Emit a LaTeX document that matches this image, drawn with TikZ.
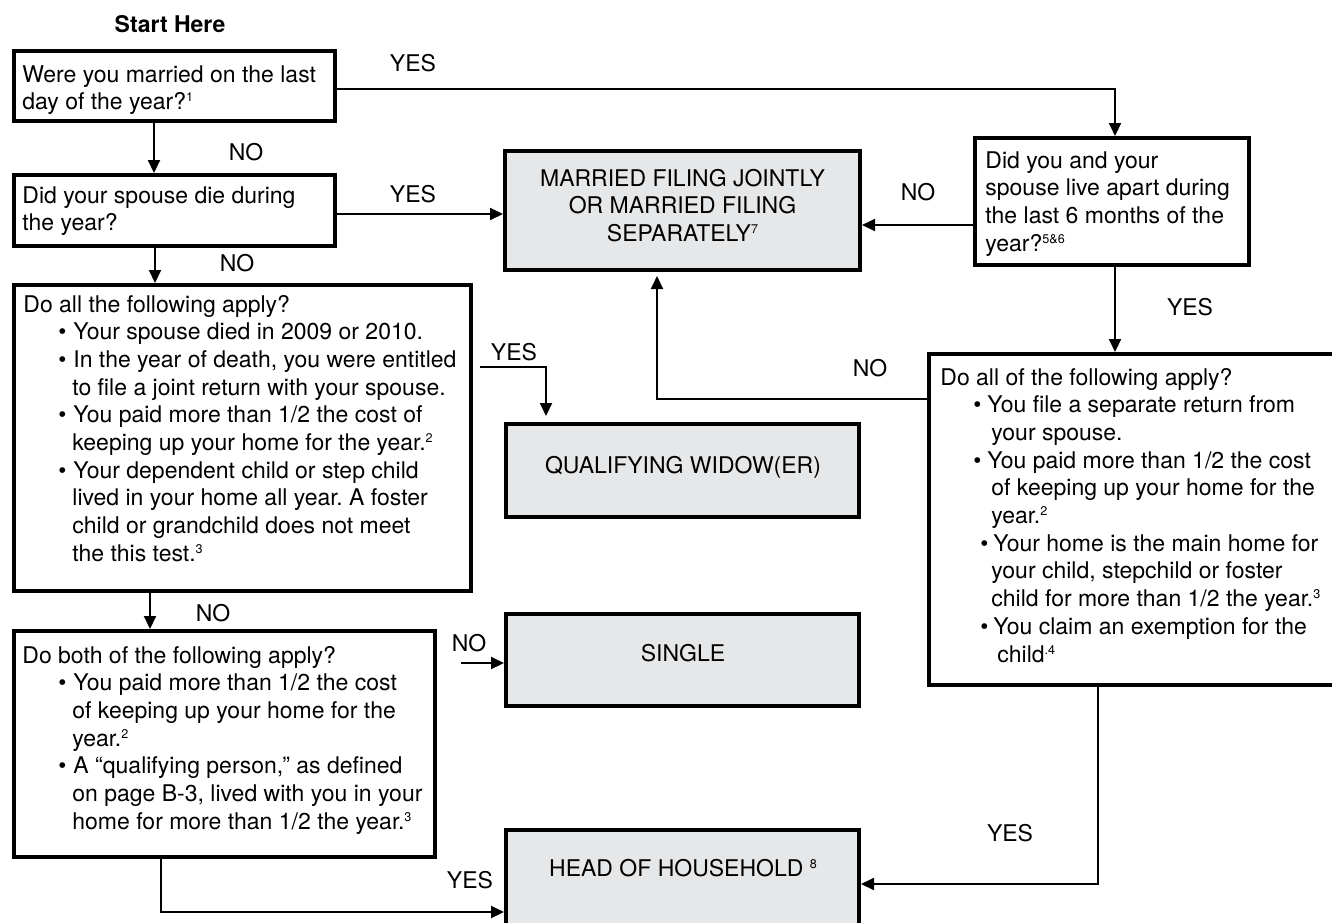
\documentclass[tikz,border=0pt]{standalone}
\usepackage{fontspec}
\setmainfont{TeX Gyre Heros}
\usetikzlibrary{arrows.meta,calc}
\definecolor{boxgray}{HTML}{E6E7E8}
\newcommand\fsz{\fontsize{11.5pt}{13.85pt}\selectfont\frenchspacing}
\newcommand\bul[2]{\hspace*{#1}\makebox[#2][l]{•}}
\newcommand\ind[1]{\hspace*{#1}}
\newcommand\sups[1]{\raisebox{3.9pt}{\fontsize{6.3pt}{7pt}\selectfont #1}}
\begin{document}
\begin{tikzpicture}[x=0.5pt,y=-0.5pt,
  box/.style={draw=black, line width=2pt, inner sep=0pt},
  rbox/.style={box, fill=boxgray},
  arr/.style={line width=1pt, -{Triangle[length=6.5pt,width=6pt]}},
  txt/.style={inner sep=0pt, anchor=base west, font=\fsz},
  ctxt/.style={inner sep=0pt, anchor=base, font=\fsz},
  lbl/.style={inner sep=0pt, font=\fsz},
]
\useasboundingbox (0,0) rectangle (1332,922);
\clip (0,0) rectangle (1332,922);

% boxes
\node[box,  minimum width=160.5pt, minimum height=35pt]   (b1) at (174.5,86) {};
\node[box,  minimum width=160.5pt, minimum height=35.5pt] (b2) at (174.5,210.5) {};
\node[rbox, minimum width=177.5pt, minimum height=59.5pt] (mfj) at (682.5,210.5) {};
\node[box,  minimum width=137pt,   minimum height=63.5pt] (b3) at (1112,201.5) {};
\node[box,  minimum width=228.5pt, minimum height=153pt]  (b4) at (242.5,438) {};
\node[rbox, minimum width=176.5pt, minimum height=46.5pt] (qw) at (682.5,470.5) {};
\node[box,  minimum width=208pt,   minimum height=165.5pt] (b5) at (1137,519.5) {};
\node[rbox, minimum width=176.5pt, minimum height=46pt]   (single) at (682.5,660) {};
\node[box,  minimum width=210.5pt, minimum height=113pt]  (b6) at (224.5,744) {};
\node[rbox, minimum width=176.5pt, minimum height=50pt]   (hoh) at (682.5,880) {};

% texts
\node[lbl, font=\fsz\bfseries] (start) at (170,24) {Start Here};
\node[txt] (t1) at (22,82) {\parbox[t]{200pt}{\raggedright
Were you married on the last\\
day of the year?\sups{1}}};
\node[txt] (t2) at (22,203) {\parbox[t]{200pt}{\raggedright
Did your spouse die during\\
the year?}};
\node[ctxt] (tmfj) at (682.5,186) {\parbox[t]{200pt}{\centering
MARRIED FILING JOINTLY\\
OR MARRIED FILING\\
SEPARATELY\sups{7}}};
\node[txt] (t3) at (985,168) {\parbox[t]{200pt}{\raggedright
Did you and your\\
spouse live apart during\\
the last 6 months of the\\
year?\sups{5\&6}}};
\node[txt] (t4) at (23,312) {\parbox[t]{260pt}{\raggedright
Do all the following apply?\\
\bul{17.5pt}{7.5pt}Your spouse died in 2009 or 2010.\\
\bul{17.5pt}{7.5pt}In the year of death, you were entitled\\
\ind{24.5pt}to file a joint return with your spouse.\\
\bul{17.5pt}{7.5pt}You paid more than 1/2 the cost of\\
\ind{24.5pt}keeping up your home for the year.\sups{2}\\
\bul{17.5pt}{7.5pt}Your dependent child or step child\\
\ind{24.5pt}lived in your home all year. A foster\\
\ind{24.5pt}child or grandchild does not meet\\
\ind{24.5pt}the this test.\sups{3}}};
\node[ctxt] (tqw) at (683,473) {QUALIFYING WIDOW(ER)};
\node[txt] (t5) at (940,385) {\parbox[t]{260pt}{\raggedright
Do all of the following apply?\\
\bul{16.5pt}{7pt}You file a separate return from\\
\ind{25.5pt}your spouse.\\
\bul{16.5pt}{7pt}You paid more than 1/2 the cost\\
\ind{25.5pt}of keeping up your home for the\\
\ind{25.5pt}year.\sups{2}\\
\bul{20pt}{6.5pt}Your home is the main home for\\
\ind{25.5pt}your child, stepchild or foster\\
\ind{25.5pt}child for more than 1/2 the year.\sups{3}\\
\bul{20pt}{6.5pt}You claim an exemption for the\\
\ind{28.5pt}child\sups{.4}}};
\node[ctxt] (tsingle) at (683,661) {SINGLE};
\node[txt] (t6) at (22,663) {\parbox[t]{260pt}{\raggedright
Do both of the following apply?\\
\bul{18pt}{7.5pt}You paid more than 1/2 the cost\\
\ind{25pt}of keeping up your home for the\\
\ind{25pt}year.\sups{2}\\
\bul{18pt}{7.5pt}A “qualifying person,” as defined\\
\ind{25pt}on page B-3, lived with you in your\\
\ind{25pt}home for more than 1/2 the year.\sups{3}}};
\node[ctxt] (thoh) at (683,876) {HEAD OF HOUSEHOLD \sups{8}};

% labels
\node[lbl] (l1) at (413,63) {YES};
\node[lbl] (l2) at (246,152) {NO};
\node[lbl] (l3) at (413,194) {YES};
\node[lbl] (l4) at (918,192) {NO};
\node[lbl] (l5) at (237,263) {NO};
\node[lbl] (l6) at (1190,307) {YES};
\node[lbl] (l7) at (514,352) {YES};
\node[lbl] (l8) at (870,368) {NO};
\node[lbl] (l9) at (213,613) {NO};
\node[lbl] (l10) at (469,643) {NO};
\node[lbl] (l11) at (1010,833) {YES};
\node[lbl] (l12) at (470,880) {YES};

% helper coordinates
\path ($(b1.north east)+(0,40)$) coordinate (c1);
\path ($(b2.north east)+(0,41)$) coordinate (c3);
\path ($(b3.north west)+(0,89)$) coordinate (c4);
\path ($(b4.north east)+(7,84)$) coordinate (c6);
\path ($(b5.north west)+(0,47)$) coordinate (c7);
\path ($(b3.south west)+(142,0)$) coordinate (c8);
\path ($(b5.south west)+(171,0)$) coordinate (c9);
\path ($(hoh.north east)+(0,56)$) coordinate (c9b);
\path ($(single.north west)+(0,51)$) coordinate (c11);
\path ($(c11)+(-43,0)$) coordinate (c11a);
\path ($(b6.south west)+(149,0)$) coordinate (c12);
\path ($(hoh.north west)+(0,84)$) coordinate (c12b);

% connectors
\draw[arr] (c1) -| ($(b3.north west)+(142,0)$);
\draw[arr] ($(b1.south west)+(142,0)$) -- ($(b2.north west)+(142,0)$);
\draw[arr] (c3) -- (c3 -| mfj.west);
\draw[arr] (c4) -- (c4 -| mfj.east);
\draw[arr] ($(b2.south west)+(143,0)$) -- ($(b4.north west)+(143,0)$);
\draw[arr, shorten >=3pt] (c6) -| ($(qw.north west)+(42,0)$);
\draw[arr, shorten >=2pt] (c7) -| ($(mfj.south west)+(154,0)$);
\draw[arr] (c8) -- (c8 |- b5.north);
\draw[arr] (c9) |- (c9b);
\draw[arr] ($(b4.south west)+(138,0)$) -- ($(b6.north west)+(138,0)$);
\draw[arr] (c11a) -- (c11);
\draw[arr] (c12) |- (c12b);
\end{tikzpicture}
\end{document}
